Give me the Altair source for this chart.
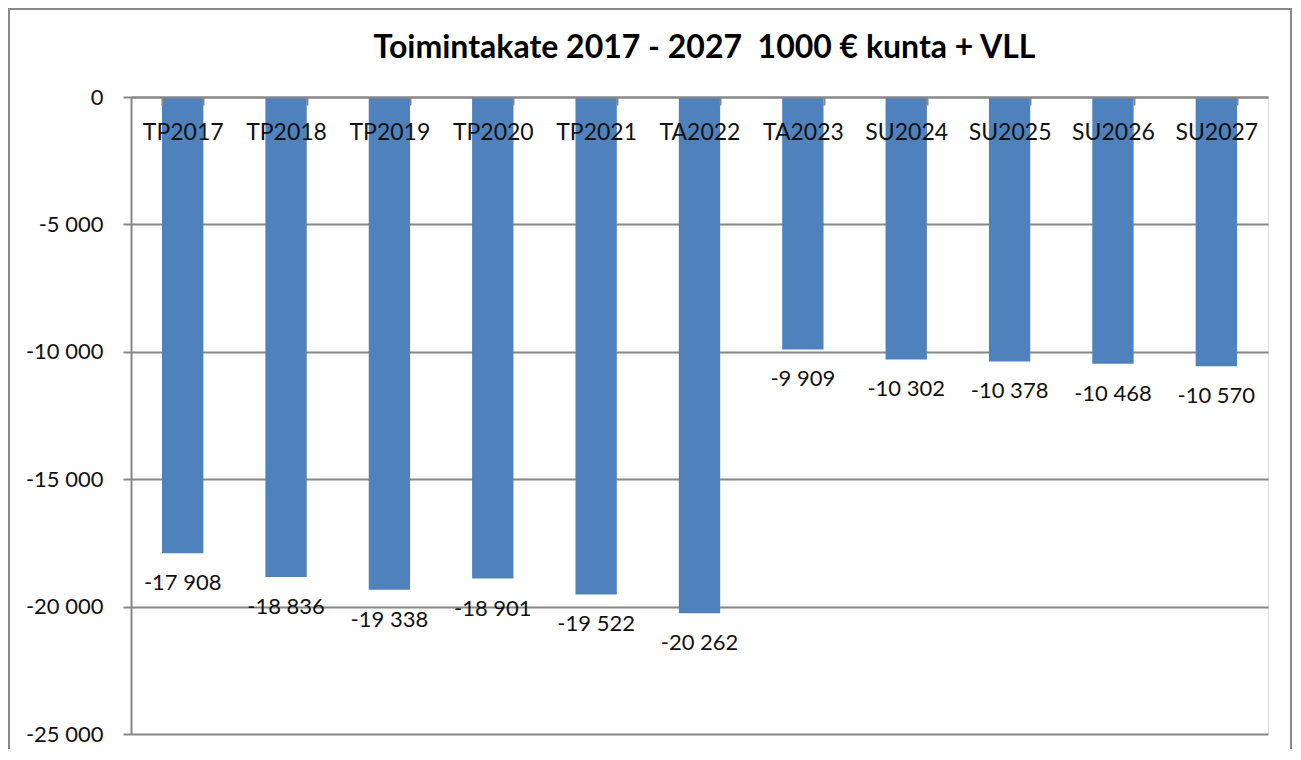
import altair as alt
import pandas as pd

categories = ["TP2017", "TP2018", "TP2019", "TP2020", "TP2021", "TA2022",
              "TA2023", "SU2024", "SU2025", "SU2026", "SU2027"]
values = [-17908, -18836, -19338, -18901, -19522, -20262,
          -9909, -10302, -10378, -10468, -10570]
y_ticks = [0, -5000, -10000, -15000, -20000, -25000]
title_text = "Toimintakate 2017 - 2027\u00a0\u00a01000 € kunta + VLL"

df = pd.DataFrame({"cat": categories, "value": values})

W, H = 1137, 637
FONT = "Lato"
GRID = "#878787"

x_enc = alt.X(
    "cat:N", sort=categories,
    scale=alt.Scale(paddingInner=0.6, paddingOuter=0.3),
    axis=alt.Axis(orient="bottom", offset=-H, title=None, labelAngle=0,
                  tickBand="extent", tickSize=8, tickColor=GRID, tickWidth=2,
                  domainColor=GRID, domainWidth=2, labelPadding=16,
                  labelFont=FONT, labelFontSize=23, labelColor="#111111",
                  labelBaseline="top", zindex=2, grid=False),
)
y_enc = alt.Y(
    "value:Q",
    scale=alt.Scale(domain=[-25000, 0], nice=False, zero=True),
    axis=alt.Axis(values=y_ticks, title=None, grid=True, gridColor=GRID,
                  gridWidth=2, tickSize=8, tickColor=GRID, tickWidth=2,
                  domainColor=GRID, domainWidth=2, labelPadding=20,
                  labelFont=FONT, labelFontSize=22, labelColor="#111111",
                  labelExpr="datum.value == 0 ? '0' : '-' + replace(format(abs(datum.value), ','), ',', ' ')"),
)

base = alt.Chart(df)

bars = base.mark_bar(color="#4F81BD").encode(x=x_enc, y=y_enc)

labels = base.transform_calculate(
    lbl="'-' + replace(format(abs(datum.value), ','), ',', ' ')"
).mark_text(baseline="middle", align="center", dy=30, font=FONT,
            fontSize=22, color="#111111").encode(
    x=alt.X("cat:N", sort=categories),
    y=alt.Y("value:Q"),
    text="lbl:N",
)

frame = base.mark_rect(fill=None, stroke="#8a8a8a", strokeWidth=2).encode(
    x=alt.value(-122), x2=alt.value(1160),
    y=alt.value(-88), y2=alt.value(700),
)

title = alt.Chart(pd.DataFrame({"t": [title_text]})).mark_text(
    font=FONT, fontSize=32, fontWeight="bold", color="#000000",
    align="center", baseline="middle",
).encode(x=alt.value(W / 2 + 5), y=alt.value(-49), text="t:N")

chart = alt.layer(frame, bars, labels, title).properties(
    width=W, height=H,
    autosize=alt.AutoSizeParams(type="none"),
    padding={"left": 123, "top": 89, "right": 25, "bottom": 15},
).configure_view(stroke=None).configure(background="white")

chart.save("out.html", embed_options={"renderer": "svg", "actions": False})
